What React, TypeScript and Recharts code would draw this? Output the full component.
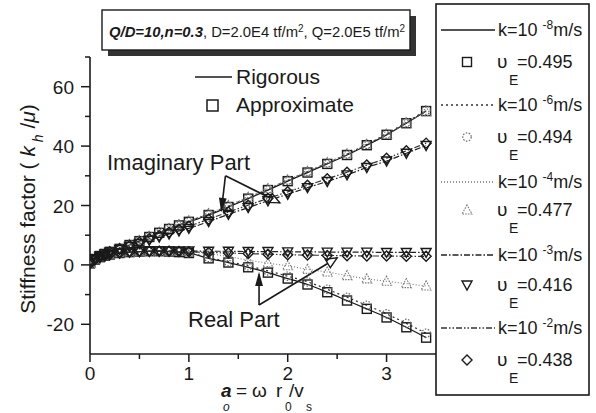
import React from 'react';
import { ComposedChart, Line, XAxis, YAxis, ReferenceLine } from 'recharts';

// dimensionless frequency a0 = ω r0 / vs
const a0 = [0, 0.05, 0.1, 0.15, 0.2, 0.3, 0.4, 0.5, 0.6, 0.7, 0.8, 0.9, 1.0, 1.2, 1.4, 1.6, 1.8, 2.0, 2.2, 2.4, 2.6, 2.8, 3.0, 3.2, 3.4];

// Real parts
const realK8 = [0.8, 1.8, 2.6, 3.1, 3.5, 4.0, 4.3, 4.5, 4.6, 4.6, 4.5, 4.3, 4.0, 2.2, 0.8, -0.8, -2.6, -4.6, -6.6, -9.2, -12.0, -14.8, -17.7, -21.0, -24.5];
const realK6 = [0.8, 1.8, 2.6, 3.1, 3.5, 4.0, 4.3, 4.5, 4.6, 4.6, 4.5, 4.3, 4.0, 2.5, 1.1, -0.3, -2.0, -3.8, -5.7, -8.2, -10.9, -13.6, -16.5, -19.7, -23.0];
const realK4 = [0.8, 1.8, 2.6, 3.1, 3.5, 4.0, 4.3, 4.5, 4.6, 4.6, 4.6, 4.5, 4.4, 3.8, 2.8, 1.6, 0.6, -0.3, -1.5, -2.4, -3.6, -4.7, -5.5, -6.3, -7.1];
const realK3 = [0.8, 1.8, 2.6, 3.1, 3.5, 4.0, 4.3, 4.5, 4.6, 4.7, 4.7, 4.7, 4.7, 4.6, 4.6, 4.5, 4.5, 4.4, 4.4, 4.3, 4.3, 4.3, 4.2, 4.2, 4.2];
const realK2 = [0.8, 1.8, 2.6, 3.1, 3.5, 4.0, 4.3, 4.5, 4.6, 4.6, 4.6, 4.5, 4.4, 4.2, 4.0, 3.8, 3.6, 3.4, 3.3, 3.2, 3.1, 3.0, 3.0, 2.9, 2.9];

// Imaginary parts
const imagK8 = [0.5, 2.0, 3.0, 3.7, 4.4, 5.4, 6.7, 8.0, 9.4, 10.8, 12.1, 13.3, 14.5, 16.8, 19.5, 22.3, 25.2, 28.2, 31.1, 34.0, 37.0, 40.3, 43.8, 47.7, 51.8];
const imagK6 = [0.5, 2.0, 3.0, 3.8, 4.5, 5.6, 6.9, 8.3, 9.7, 11.1, 12.4, 13.6, 14.8, 17.1, 19.8, 22.6, 25.5, 28.5, 31.4, 34.3, 37.3, 40.6, 44.1, 48.0, 52.1];
const imagK4 = [0.5, 2.0, 3.0, 3.8, 4.5, 5.6, 6.9, 8.2, 9.6, 11.0, 12.3, 13.6, 14.9, 17.3, 20.0, 22.8, 25.7, 28.6, 31.5, 34.4, 37.4, 40.6, 44.0, 47.8, 51.6];
const imagK3 = [0.5, 2.0, 3.0, 3.7, 4.3, 5.2, 6.2, 7.2, 8.3, 9.4, 10.4, 11.4, 12.3, 14.6, 17.0, 19.3, 21.6, 23.8, 26.0, 28.1, 30.3, 32.8, 35.0, 37.6, 40.2];
const imagK2 = [0.5, 2.0, 3.0, 3.7, 4.4, 5.4, 6.5, 7.6, 8.8, 9.9, 11.0, 12.0, 13.0, 15.4, 17.8, 20.1, 22.4, 24.6, 26.8, 29.0, 31.2, 33.6, 35.9, 38.4, 41.0];

const xTicks = [0, 0.5, 1, 1.5, 2, 2.5, 3];
const yTicks = [-20, -10, 0, 10, 20, 30, 40, 50, 60, 70];

// annotation arrows in data coordinates
const imagArrowBase = { x: 1.37, y: 30.0 };
const imagArrowTips = [{ x: 1.33, y: 18.6 }, { x: 1.92, y: 20.9 }];
const realArrowBase = { x: 1.71, y: -13.5 };
const realArrowTips = [{ x: 1.71, y: -3.2 }, { x: 2.5, y: 2.4 }];

const data = a0.map((a, i) => ({
  a,
  r8: realK8[i], r6: realK6[i], r4: realK4[i], r3: realK3[i], r2: realK2[i],
  i8: imagK8[i], i6: imagK6[i], i4: imagK4[i], i3: imagK3[i], i2: imagK2[i],
}));

const FONT = '"Liberation Sans", Arial, sans-serif';
const INK = '#1a1a1a';

const SquareM = ({ cx, cy }: any) => (
  <rect x={cx - 4.5} y={cy - 4.5} width={9} height={9} fill="none" stroke={INK} strokeWidth={1.4} />
);
const CircleM = ({ cx, cy }: any) => (
  <circle cx={cx} cy={cy} r={4.2} fill="none" stroke="#666" strokeWidth={1.2} strokeDasharray="1.5 1.5" />
);
const TriUpM = ({ cx, cy }: any) => (
  <polygon points={`${cx},${cy - 5} ${cx - 5},${cy + 4} ${cx + 5},${cy + 4}`} fill="none" stroke="#777" strokeWidth={1.1} strokeDasharray="1.5 1.2" />
);
const TriDownM = ({ cx, cy }: any) => (
  <polygon points={`${cx - 5},${cy - 4} ${cx + 5},${cy - 4} ${cx},${cy + 5}`} fill="none" stroke={INK} strokeWidth={1.4} />
);
const DiamondM = ({ cx, cy }: any) => (
  <polygon points={`${cx},${cy - 5} ${cx + 5},${cy} ${cx},${cy + 5} ${cx - 5},${cy}`} fill="none" stroke={INK} strokeWidth={1.4} />
);

const styles = {
  k8: { stroke: INK, dash: undefined as any, width: 1.3, dot: SquareM },
  k6: { stroke: '#333', dash: '2 3', width: 1.2, dot: CircleM },
  k4: { stroke: '#777', dash: '1 2', width: 1.1, dot: TriUpM },
  k3: { stroke: '#222', dash: '6 2 1.5 2', width: 1.2, dot: TriDownM },
  k2: { stroke: '#333', dash: '6 2 1.5 2 1.5 2', width: 1.2, dot: DiamondM },
};

const XTick = ({ x, y, payload }: any) => {
  const v = payload.value;
  const major = Number.isInteger(v);
  return (
    <g>
      <line x1={x} x2={x} y1={y} y2={y + (major ? 8 : 5)} stroke={INK} strokeWidth={1.5} />
      {major && (
        <text x={x} y={y + 26} textAnchor="middle" fontSize={19} fontFamily={FONT} fill={INK}>{v}</text>
      )}
    </g>
  );
};

const YTick = ({ x, y, payload }: any) => {
  const v = payload.value;
  const major = v % 20 === 0;
  return (
    <g>
      <line x1={x} x2={x - (major ? 9 : 5)} y1={y} y2={y} stroke={INK} strokeWidth={1.5} />
      {major && (
        <text x={x - 16} y={y + 7} textAnchor="end" fontSize={19} fontFamily={FONT} fill={INK}>{v}</text>
      )}
    </g>
  );
};

const makeArrow = (open: boolean) => (props: any) => {
  const { x1, y1, x2, y2 } = props;
  const ang = Math.atan2(y2 - y1, x2 - x1);
  const L = 11, W = open ? 5 : 3;
  const bx = x2 - L * Math.cos(ang), by = y2 - L * Math.sin(ang);
  const px = -Math.sin(ang) * W, py = Math.cos(ang) * W;
  return (
    <g>
      <line x1={x1} y1={y1} x2={x2} y2={y2} stroke={INK} strokeWidth={1.6} />
      <polygon points={`${x2},${y2} ${bx + px},${by + py} ${bx - px},${by - py}`} fill={open ? '#fff' : INK} stroke={INK} strokeWidth={1.4} />
    </g>
  );
};

const legendRows = [
  { key: 'k8', exp: '-8', nu: '0.495' },
  { key: 'k6', exp: '-6', nu: '0.494' },
  { key: 'k4', exp: '-4', nu: '0.477' },
  { key: 'k3', exp: '-3', nu: '0.416' },
  { key: 'k2', exp: '-2', nu: '0.438' },
];
const kRowY = [30, 105, 182, 255, 328];
const nuRowY = [62, 137, 210, 285, 360];

export default function App() {
  const seriesKeys = ['k8', 'k6', 'k4', 'k3', 'k2'] as const;
  return (
    <div style={{ position: 'absolute', left: 0, top: 0, width: 596, height: 413, background: '#fff' }}>
      <div style={{ position: 'absolute', left: 0, top: 0 }}>
        <ComposedChart width={596} height={413} data={data} margin={{ top: 57, right: 160, bottom: 0, left: 0 }}>
          <XAxis
            dataKey="a" type="number" domain={[0, 3.5]} ticks={xTicks} interval={0}
            tickSize={0} tickMargin={0} tickLine={false} tick={XTick}
            axisLine={{ stroke: INK, strokeWidth: 1.6 }} height={59} allowDataOverflow
          />
          <YAxis
            type="number" domain={[-30, 70]} ticks={yTicks} interval={0}
            tickSize={0} tickMargin={0} tickLine={false} tick={YTick}
            axisLine={{ stroke: INK, strokeWidth: 1.6 }} width={90} allowDataOverflow
          />
          {seriesKeys.map((k) => {
            const s = styles[k];
            const suffix = k.slice(1);
            return [
              <Line key={'r' + k} dataKey={'r' + suffix} type="monotone" stroke={s.stroke} strokeWidth={s.width}
                strokeDasharray={s.dash} dot={s.dot} isAnimationActive={false} />,
              <Line key={'i' + k} dataKey={'i' + suffix} type="monotone" stroke={s.stroke} strokeWidth={s.width}
                strokeDasharray={s.dash} dot={s.dot} isAnimationActive={false} />,
            ];
          })}
          <ReferenceLine segment={[imagArrowBase, imagArrowTips[0]]} shape={makeArrow(false)} />
          <ReferenceLine segment={[imagArrowBase, imagArrowTips[1]]} shape={makeArrow(true)} />
          <ReferenceLine segment={[realArrowBase, realArrowTips[0]]} shape={makeArrow(false)} />
          <ReferenceLine segment={[realArrowBase, realArrowTips[1]]} shape={makeArrow(true)} />
        </ComposedChart>
      </div>
      <svg width={596} height={413} style={{ position: 'absolute', left: 0, top: 0, pointerEvents: 'none' }} fontFamily={FONT}>
        {/* title box */}
        <rect x={108} y={16} width={308} height={40} fill="#333" />
        <rect x={102} y={10} width={308} height={40} fill="#fff" stroke={INK} strokeWidth={1.4} />
        <text x={109} y={37} fontSize={15} fill={INK} textLength={296} lengthAdjust="spacingAndGlyphs">
          <tspan fontWeight="bold" fontStyle="italic">Q/D=10,n=0.3</tspan>,  D=2.0E4 tf/m<tspan fontSize={10} dy={-5}>2</tspan><tspan dy={5}>, Q=2.0E5 tf/m</tspan><tspan fontSize={10} dy={-5}>2</tspan>
        </text>

        {/* inner legend */}
        <line x1={195} x2={232} y1={77} y2={77} stroke={INK} strokeWidth={1.4} />
        <text x={236} y={84} fontSize={21} fill={INK}>Rigorous</text>
        <rect x={207} y={100} width={11} height={11} fill="none" stroke={INK} strokeWidth={1.5} />
        <text x={236} y={112} fontSize={21} fill={INK}>Approximate</text>

        {/* annotations */}
        <text x={107} y={170} fontSize={22} fill={INK}>Imaginary Part</text>
        <text x={188} y={327} fontSize={22} fill={INK}>Real Part</text>

        {/* y axis label */}
        <text transform="translate(35,209) rotate(-90)" textAnchor="middle" fontSize={21} fill={INK}>
          Stiffness factor ( <tspan fontStyle="italic">k</tspan><tspan fontSize={14} fontStyle="italic" dy={8}> h</tspan><tspan dy={-8}> /</tspan><tspan fontStyle="italic">μ</tspan>)
        </text>

        {/* x axis label */}
        <text x={221} y={397} fontSize={19} fontWeight="bold" fontStyle="italic" fill={INK}>a</text>
        <text x={223} y={411} fontSize={12} fontStyle="italic" fill={INK}>o</text>
        <text x={236} y={397} fontSize={19} fill={INK}>=</text>
        <text x={252} y={397} fontSize={19} fill={INK}>ω</text>
        <text x={276} y={397} fontSize={19} fill={INK}>r</text>
        <text x={285} y={411} fontSize={12} fill={INK}>0</text>
        <text x={289} y={397} fontSize={19} fill={INK}>/v</text>
        <text x={306} y={411} fontSize={12} fill={INK}>s</text>

        {/* right legend box */}
        <rect x={436} y={4} width={153} height={391} fill="#fff" stroke={INK} strokeWidth={1.6} />
        {legendRows.map((r, i) => {
          const s = (styles as any)[r.key];
          const Dot = s.dot;
          const ky = kRowY[i];
          const ny = nuRowY[i];
          return (
            <g key={r.key}>
              <line x1={441} x2={495} y1={ky} y2={ky} stroke={s.stroke} strokeWidth={s.width + 0.2} strokeDasharray={s.dash} />
              <text x={498} y={ky + 6} fontSize={18} fill={INK}>
                k=10 <tspan fontSize={12} dy={-7}>{r.exp}</tspan><tspan dy={7}>m/s</tspan>
              </text>
              <Dot cx={467} cy={ny} />
              <text x={497} y={ny + 6} fontSize={19} fill={INK}>υ</text>
              <text x={517} y={ny + 6} fontSize={18} fill={INK}>={r.nu}</text>
              <text x={509} y={ny + 23} fontSize={14} fill={INK}>E</text>
            </g>
          );
        })}
      </svg>
    </div>
  );
}
